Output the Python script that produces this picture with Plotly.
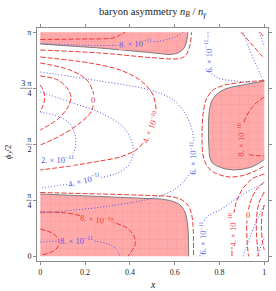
import plotly.graph_objects as go

# ---------------- data: x and phi_J/2 (in units of pi) ----------------
# shaded regions
bl_region_x = [0, 0, 0.2665, 0.4897, 0.54, 0.575, 0.6013, 0.62, 0.6326, 0.644, 0.6504, 0.656, 0.6594, 0.6615, 0.6625]
bl_region_y = [0, 0.2781, 0.267, 0.258, 0.2555, 0.25, 0.2424, 0.232, 0.2201, 0.2025, 0.1844, 0.155, 0.1263, 0.07, 0]
tl_region_x = [0, 0, 0.2665, 0.4897, 0.54, 0.5701, 0.595, 0.6147, 0.63, 0.6415, 0.65, 0.6549, 0.658, 0.6594]
tl_region_y = [1, 0.9478, 0.9299, 0.9098, 0.904, 0.9009, 0.9025, 0.9076, 0.917, 0.9299, 0.947, 0.9656, 0.985, 1]
r_region_x = [1, 0.9362, 0.8616, 0.825, 0.8022, 0.785, 0.7723, 0.763, 0.7576, 0.753, 0.7509, 0.7509, 0.752,
              0.7554, 0.765, 0.7875, 0.825, 0.8616, 0.9, 0.9362, 0.962, 0.9808, 1]
r_region_y = [0.7826, 0.7723, 0.7571, 0.747, 0.7348, 0.721, 0.7054, 0.688, 0.6679, 0.635, 0.5951, 0.5192, 0.48,
              0.4446, 0.42, 0.4031, 0.39, 0.3853, 0.388, 0.3964, 0.407, 0.421, 0.4321]

# red dashed contours
red_top_inner_x = [0, 0.1772, 0.3246, 0.3558, 0.3781]
red_top_inner_y = [0.9679, 0.9701, 0.9746, 0.9879, 1.0]
red_top_outer_x = [0, 0.2665, 0.4897, 0.6013, 0.63, 0.6504, 0.6683, 0.675]
red_top_outer_y = [0.921, 0.9076, 0.8875, 0.8808, 0.885, 0.8987, 0.9433, 1.0]
red_arc1_x = [0, 0.2219, 0.3558, 0.4451, 0.4987, 0.5165, 0.5076, 0.4763, 0.4272, 0.3558, 0.2665, 0.1326, 0]
red_arc1_y = [0.8897, 0.8629, 0.8317, 0.787, 0.729, 0.6621, 0.5996, 0.5281, 0.4746, 0.4433, 0.4254, 0.4031, 0.3853]
red_arc2_x = [0, 0.1326, 0.2085, 0.2353, 0.2397, 0.2263, 0.1772, 0.0879, 0]
red_arc2_y = [0.8629, 0.8317, 0.787, 0.7335, 0.6978, 0.6442, 0.5951, 0.5371, 0.4969]
red_arc3_x = [0, 0.079, 0.1192, 0.1371, 0.1237, 0.079, 0]
red_arc3_y = [0.8049, 0.787, 0.7513, 0.7112, 0.6665, 0.6129, 0.5638]
red_arc4_x = [0, 0.0165, 0.0188, 0.0098, 0]
red_arc4_y = [0.7647, 0.7335, 0.6978, 0.6665, 0.6442]
red_bl_outer_x = [0, 0.2665, 0.4897, 0.579, 0.6237, 0.6549, 0.6728, 0.6817, 0.6839]
red_bl_outer_y = [0.2848, 0.2781, 0.2714, 0.267, 0.2558, 0.2335, 0.1978, 0.1397, 0]
red_bl_inner_x = [0, 0.1179, 0.2442, 0.3335, 0.387, 0.4183, 0.4228, 0.4049, 0.3915]
red_bl_inner_y = [0.1978, 0.1933, 0.1665, 0.1487, 0.1263, 0.0906, 0.0504, 0.0192, 0]
red_bl_small_x = [0, 0.0522, 0.0835, 0.0746, 0.0388, 0]
red_bl_small_y = [0.1219, 0.104, 0.0728, 0.0371, 0.0147, 0.0058]
red_r_outer_x = [1, 0.9138, 0.8246, 0.771, 0.7397, 0.7263, 0.7219, 0.7263, 0.7442, 0.7799, 0.8469, 0.9138, 0.9629, 1]
red_r_outer_y = [0.7848, 0.7781, 0.7647, 0.7424, 0.6978, 0.6308, 0.5415, 0.4522, 0.4031, 0.3719, 0.354, 0.363, 0.383, 0.4031]
red_r_inner_x = [1, 0.9585, 0.9228, 0.9004, 0.8915, 0.9004, 0.9317, 1]
red_r_inner_y = [0.7112, 0.6799, 0.6308, 0.5728, 0.5103, 0.4746, 0.4545, 0.4478]
red_br1_x = [1, 0.9451, 0.9004, 0.8737, 0.8603, 0.8558, 0.8558]
red_br1_y = [0.3674, 0.3451, 0.296, 0.2379, 0.1621, 0.0728, 0]
red_br2_x = [1, 0.9629, 0.9362, 0.9228, 0.9228, 0.9295]
red_br2_y = [0.3317, 0.296, 0.2379, 0.1621, 0.0728, 0]
red_br3_x = [1, 0.9763, 0.9652, 0.9652, 0.974]
red_br3_y = [0.287, 0.2379, 0.171, 0.0951, 0]
red_br4_x = [1, 0.9897, 0.9875, 0.992, 1]
red_br4_y = [0.229, 0.1844, 0.1263, 0.0638, 0.0281]
red_tr1_x = [0.896, 0.9272, 0.9585, 0.9897, 1]
red_tr1_y = [1, 0.9656, 0.9299, 0.8942, 0.8853]
red_tr2_x = [0.9808, 1]
red_tr2_y = [1, 0.979]

# blue dotted contours
blue_top_x = [0, 0.1772, 0.3112, 0.4228, 0.5344, 0.6013, 0.6371]
blue_top_y = [0.95, 0.9433, 0.9411, 0.9478, 0.9612, 0.979, 1.0]
blue_6_x = [0, 0.2665, 0.4897, 0.5879, 0.646, 0.6772, 0.6862, 0.6772, 0.646, 0.6013, 0.5344, 0.4451, 0.3112, 0.1549, 0]
blue_6_y = [0.8228, 0.7826, 0.7424, 0.7022, 0.6397, 0.5638, 0.4835, 0.3942, 0.3406, 0.3004, 0.2692, 0.2469, 0.2246, 0.2067, 0.1933]
blue_4_x = [0, 0.146, 0.2799, 0.3692, 0.4094, 0.4138, 0.3915, 0.346, 0.2665, 0.1549, 0]
blue_4_y = [0.7335, 0.6844, 0.6353, 0.5772, 0.5103, 0.4522, 0.4031, 0.3719, 0.3496, 0.3272, 0.3049]
blue_2_x = [0, 0.0879, 0.1326, 0.1549, 0.1571, 0.1326, 0.0746, 0]
blue_2_y = [0.6442, 0.6219, 0.5906, 0.5415, 0.4879, 0.4433, 0.4299, 0.4254]
blue_bl_x = [0, 0.0879, 0.1549, 0.2442, 0.3022, 0.3379, 0.3558]
blue_bl_y = [0.0638, 0.0683, 0.0705, 0.0683, 0.0549, 0.0326, 0]
blue_tr6_x = [0.7487, 0.7509, 0.7576, 0.7933, 0.8692, 0.9585]
blue_tr6_y = [1, 0.8942, 0.8272, 0.796, 0.7826, 0.7759]
blue_tr_x = [0.9049, 0.9317, 0.963, 0.9942]
blue_tr_y = [1, 0.9299, 0.854, 0.7871]
blue_tr2_x = [0.9763, 1]
blue_tr2_y = [1, 0.9371]
blue_br6_x = [0.713, 0.7152, 0.7241, 0.7487, 0.8022, 0.8987, 1]
blue_br6_y = [0, 0.0728, 0.1397, 0.1799, 0.2067, 0.2737, 0.3272]
blue_br2_x = [0.9049, 0.9362, 0.9674, 1]
blue_br2_y = [0, 0.0862, 0.1621, 0.229]
blue_br3_x = [0.9674, 1]
blue_br3_y = [0, 0.0817]

# ticks
x_tick_vals = [0, 0.2, 0.4, 0.6, 0.8, 1]
x_tick_text = ["0", "0.2", "0.4", "0.6", "0.8", "1"]
y_tick_vals = [0, 0.25, 0.5, 0.75, 1]
y_tick_text = ["0", "π<br>4", "π<br>2", "3 π<br>4", "π"]

# ---------------- styles ----------------
RED = 'rgb(238,55,55)'
BLUE = 'rgb(85,85,238)'
PINK = 'rgb(255,170,170)'
FRAME = 'rgb(140,140,140)'
SERIF = 'Liberation Serif'
XR = [-0.0147, 1.0165]
YR = [-0.021, 1.0192]

fig = go.Figure()


def region(xs, ys, start):
    fig.add_trace(go.Scatter(
        x=xs, y=ys, mode='lines', fill='toself', fillcolor=PINK,
        fillpattern=dict(shape='+', bgcolor=PINK, fgcolor='rgba(232,90,90,0.45)', size=9, solidity=0.1),
        line=dict(width=0), hoverinfo='skip', showlegend=False))
    fig.add_trace(go.Scatter(
        x=xs[start:], y=ys[start:], mode='lines',
        line=dict(color='rgb(125,125,125)', width=1), hoverinfo='skip', showlegend=False))


region(bl_region_x, bl_region_y, 1)
region(tl_region_x, tl_region_y, 1)
region(r_region_x, r_region_y, 0)

red_lines = [
    (red_top_inner_x, red_top_inner_y), (red_top_outer_x, red_top_outer_y),
    (red_arc1_x, red_arc1_y), (red_arc2_x, red_arc2_y), (red_arc3_x, red_arc3_y), (red_arc4_x, red_arc4_y),
    (red_bl_outer_x, red_bl_outer_y), (red_bl_inner_x, red_bl_inner_y), (red_bl_small_x, red_bl_small_y),
    (red_r_outer_x, red_r_outer_y), (red_r_inner_x, red_r_inner_y),
    (red_br1_x, red_br1_y), (red_br2_x, red_br2_y), (red_br3_x, red_br3_y), (red_br4_x, red_br4_y),
    (red_tr1_x, red_tr1_y), (red_tr2_x, red_tr2_y),
]
blue_lines = [
    (blue_top_x, blue_top_y), (blue_6_x, blue_6_y), (blue_4_x, blue_4_y), (blue_2_x, blue_2_y),
    (blue_bl_x, blue_bl_y), (blue_tr6_x, blue_tr6_y), (blue_tr_x, blue_tr_y), (blue_tr2_x, blue_tr2_y),
    (blue_br6_x, blue_br6_y), (blue_br2_x, blue_br2_y), (blue_br3_x, blue_br3_y),
]
for xs, ys in red_lines:
    fig.add_trace(go.Scatter(x=xs, y=ys, mode='lines', hoverinfo='skip', showlegend=False,
                             line=dict(color=RED, width=1.0, dash='5px,2px', shape='spline', smoothing=0.9)))
for xs, ys in blue_lines:
    fig.add_trace(go.Scatter(x=xs, y=ys, mode='lines', hoverinfo='skip', showlegend=False,
                             line=dict(color=BLUE, width=1.0, dash='1px,2px', shape='spline', smoothing=0.9)))


def label(x, y, text, color, angle, bg):
    fig.add_annotation(x=x, y=y, xref='x', yref='y', text=text, showarrow=False, textangle=angle,
                       xanchor='center', yanchor='middle',
                       font=dict(family=SERIF, size=8.5, color=color), bgcolor=bg, borderpad=0)


B11 = "{}. × 10<sup>−11</sup>"
R10 = "{}. × 10<sup>−10</sup>"
label(0.4272, 0.95, B11.format(8), BLUE, -3, PINK)
label(0.7509, 0.8938, B11.format(6), BLUE, -90, 'white')
label(0.6795, 0.4388, B11.format(6), BLUE, -90, 'white')
label(0.0768, 0.4321, B11.format(2), BLUE, 0, 'white')
label(0.1951, 0.3362, B11.format(4), BLUE, -14, 'white')
label(0.1638, 0.0705, B11.format(8), BLUE, 0, PINK)
label(0.7241, 0.0817, B11.format(6), BLUE, -90, 'white')
label(0.4942, 0.5728, R10.format(4), RED, -68, 'white')
label(0.2487, 0.1621, R10.format(8), RED, 8, PINK)
label(0.8938, 0.5192, R10.format(8), RED, -90, PINK)
label(0.858, 0.1174, R10.format(4), RED, -90, 'white')
label(0.2353, 0.6978, "0", RED, 0, 'white')
label(0.9272, 0.1844, "0", RED, 0, 'white')

# fraction bars of the y tick labels
for v, wide in [(0.25, False), (0.5, False), (0.75, True)]:
    yp = (v - YR[0]) / (YR[1] - YR[0])
    x0 = -0.074 if wide else -0.048
    fig.add_shape(type='line', xref='paper', yref='paper', x0=x0, x1=-0.022, y0=yp, y1=yp,
                  line=dict(color='#555', width=0.6))

fig.add_annotation(x=0.502, y=1.067, xref='paper', yref='paper', showarrow=False,
                   xanchor='center', yanchor='middle',
                   text="baryon asymmetry <i>n</i><sub><i>B</i></sub> / <i>n</i><sub><i>γ</i></sub>",
                   font=dict(family=SERIF, size=10.5, color='#222'))
fig.add_annotation(x=0.5, y=-0.103, xref='paper', yref='paper', showarrow=False, text="<i>x</i>",
                   xanchor='center', yanchor='middle',
                   font=dict(family=SERIF, size=10, color='#222'))
fig.add_annotation(x=-0.123, y=0.465, xref='paper', yref='paper', showarrow=False, textangle=-90,
                   xanchor='center', yanchor='middle',
                   text="<i>ϕ</i><sub><i>J</i></sub>/2", font=dict(family=SERIF, size=9, color='#222'))

axis_common = dict(showgrid=False, zeroline=False, showline=True, linecolor=FRAME, linewidth=1,
                   mirror='ticks', ticks='outside', ticklen=3, tickcolor=FRAME, tickwidth=1,
                   tickfont=dict(family=SERIF, size=8, color='#222'), fixedrange=True)
fig.update_xaxes(range=XR, tickvals=x_tick_vals, ticktext=x_tick_text, **axis_common)
fig.update_yaxes(range=YR, tickvals=y_tick_vals, ticktext=y_tick_text, **axis_common)
fig.update_layout(width=276, height=291, margin=dict(l=37, r=8, t=28, b=30, autoexpand=False),
                  plot_bgcolor='white', paper_bgcolor='white', showlegend=False)

fig.write_html("out.html", config={'displayModeBar': False, 'staticPlot': True},
               post_script="document.body.style.margin='0';")
